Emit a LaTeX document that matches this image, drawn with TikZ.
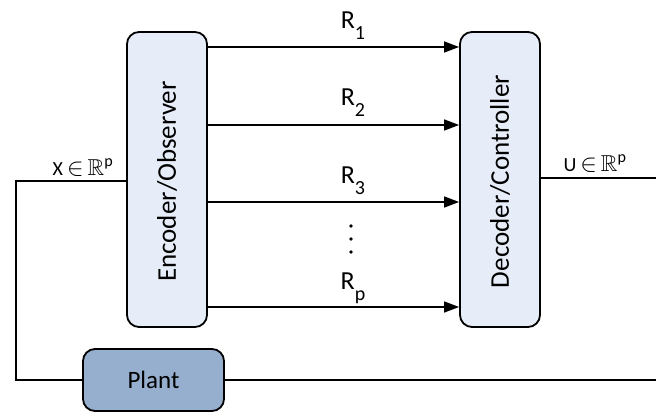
\documentclass[tikz,border=0pt]{standalone}
\usepackage{amssymb}
\usepackage{fontspec}
\setmainfont{Carlito}
\usetikzlibrary{arrows.meta}
\definecolor{boxfill}{HTML}{E7EDF8}
\definecolor{plantfill}{HTML}{97AFCF}
\newcommand{\rsub}[1]{\raisebox{-11pt}{\fontsize{20}{22}\selectfont #1}}
\newcommand{\inR}{\kern4pt{\fontsize{23}{25}\selectfont$\mathord{\in}\kern4pt\mathbb{R}^{\mathrm{p}}$}}
\tikzset{
  bigbox/.style={draw=black, line width=1.8pt, rounded corners=12pt, fill=boxfill, minimum width=80pt, minimum height=295pt, inner sep=0pt},
  plantbox/.style={draw=black, line width=1.8pt, rounded corners=12pt, fill=plantfill, minimum width=141pt, minimum height=62pt, inner sep=0pt},
  wire/.style={line width=1.4pt},
  arr/.style={line width=1.4pt, -{Triangle[length=15pt,width=11pt]}},
  rlab/.style={font=\fontsize{26}{28}\selectfont, anchor=base},
  boxtxt/.style={font=\fontsize{27}{30}\selectfont, rotate=90},
  sig/.style={font=\fontsize{20}{22}\selectfont, anchor=base}
}
\begin{document}
\begin{tikzpicture}[x=1pt,y=-1pt]
\useasboundingbox (0,0) rectangle (656,419);
\node[bigbox] (enc) at (167,179.5) {};
\node[boxtxt] at ([yshift=-2pt]enc.center) {Encoder/Observer};
\node[bigbox] (dec) at (500,179.5) {};
\node[boxtxt] at ([yshift=-2pt]dec.center) {Decoder/Controller};
\node[plantbox] (plant) at (153.5,380) {};
\node[font=\fontsize{25}{28}\selectfont] at (plant.center) {Plant};

\coordinate (y1) at (0,47);
\coordinate (y2) at (0,125);
\coordinate (y3) at (0,202);
\coordinate (yp) at (0,307);
\draw[arr] (enc.east |- y1) -- (dec.west |- y1);
\draw[arr] (enc.east |- y2) -- (dec.west |- y2);
\draw[arr] (enc.east |- y3) -- (dec.west |- y3);
\draw[arr] (enc.east |- yp) -- (dec.west |- yp);

\node[rlab] (l1) at (353,29) {R\rsub{1}};
\node[rlab] (l2) at (353,106) {R\rsub{2}};
\node[rlab] (l3) at (353,184) {R\rsub{3}};
\node[rlab] (lp) at (353,290) {R\rsub{p}};
\foreach \yy in {226,239,252} \fill (351,\yy) circle (1.9pt);

\coordinate (xl) at (16,181);
\coordinate (bl) at (16,380);
\coordinate (ur) at (656,178);
\coordinate (br) at (656,380);
\draw[wire] (enc.west |- xl) -- (xl) -- (bl) -- (plant.west);
\draw[wire] (plant.east) -- (br);
\draw[wire] (dec.east |- ur) -- (ur);
\node[sig] (xlab) at (83,176) {X\inR};
\node[sig] (ulab) at (595,172) {U\inR};
\end{tikzpicture}
\end{document}
